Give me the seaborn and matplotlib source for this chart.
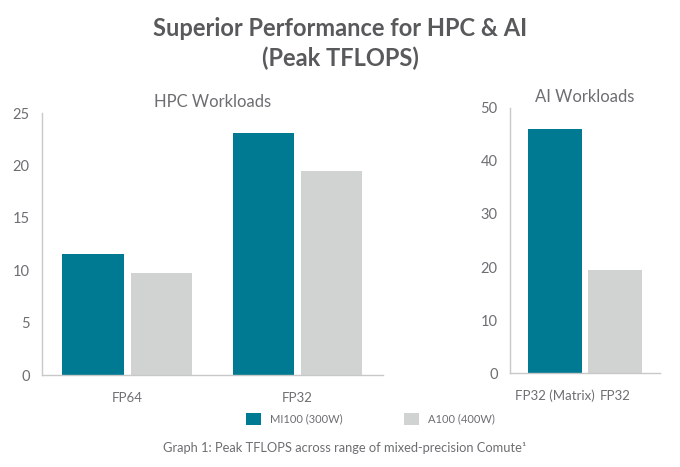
import pandas as pd
import matplotlib.pyplot as plt
import seaborn as sns
from matplotlib.patches import Patch

# datos (TFLOPS pico)
hpc_cats = ['FP64', 'FP32']
hpc_mi100 = [11.5, 23.1]
hpc_a100 = [9.7, 19.5]

ai_cats = ['FP32 (Matrix)', 'FP32']
ai_devices = ['MI100 (300W)', 'A100 (400W)']
ai_vals = [46.1, 19.5]

devices = ['MI100 (300W)', 'A100 (400W)']
colores = {'MI100 (300W)': '#007A92', 'A100 (400W)': '#D1D2D2'}
gris_texto = '#6D6E71'
gris_eje = '#C8C8C8'

sns.set_style('white')
plt.rcParams['font.family'] = ['Lato', 'DejaVu Sans']

df_hpc = pd.DataFrame({
    'cat': hpc_cats * 2,
    'device': [devices[0]] * len(hpc_cats) + [devices[1]] * len(hpc_cats),
    'tflops': hpc_mi100 + hpc_a100,
})
df_ai = pd.DataFrame({'cat': ai_cats, 'device': ai_devices, 'tflops': ai_vals})

fig = plt.figure(figsize=(6.8, 4.67), dpi=100)
ax1 = fig.add_axes([0.0618, 0.197, 0.501, 0.561])
ax2 = fig.add_axes([0.75, 0.201, 0.221, 0.568])

sns.barplot(data=df_hpc, x='cat', y='tflops', hue='device', palette=colores,
            order=hpc_cats, hue_order=devices, width=0.8, gap=0.1,
            saturation=1, linewidth=0, legend=False, ax=ax1)
sns.barplot(data=df_ai, x='cat', y='tflops', hue='device', palette=colores,
            order=ai_cats, hue_order=devices, dodge=False, width=0.9,
            saturation=1, linewidth=0, legend=False, ax=ax2)

ax1.set_ylim(0, 25)
ax1.set_yticks([0, 5, 10, 15, 20, 25])
ax1.set_xlim(-0.5, 1.5)
ax1.set_xticks([0.5, 1.5], minor=True)
ax2.set_ylim(0, 50)
ax2.set_yticks([0, 10, 20, 30, 40, 50])
ax2.set_xlim(-0.75, 1.75)
ax2.set_xticks([1.75], minor=True)

for ax, titulo in [(ax1, 'HPC Workloads'), (ax2, 'AI Workloads')]:
    ax.set_xlabel('')
    ax.set_ylabel('')
    ax.set_title(titulo, color=gris_texto, fontsize=12, pad=4)
    for lado in ['top', 'right']:
        ax.spines[lado].set_visible(False)
    for lado in ['left', 'bottom']:
        ax.spines[lado].set_color(gris_eje)
        ax.spines[lado].set_linewidth(1)
    ax.tick_params(axis='y', length=0, pad=9, labelsize=10.5, labelcolor=gris_texto)
    ax.tick_params(axis='x', which='major', length=0, pad=12, labelsize=9.5, labelcolor=gris_texto)
    ax.tick_params(axis='x', which='minor', direction='in', length=5, color=gris_eje)

fig.text(0.5, 0.907, 'Superior Performance for HPC & AI\n(Peak TFLOPS)',
         ha='center', va='center', fontsize=17, fontweight='bold',
         color='#58595B', linespacing=1.3)

handles = [Patch(facecolor=colores[d], edgecolor='none', label=d) for d in devices]
fig.legend(handles=handles, loc='center', bbox_to_anchor=(0.545, 0.103), ncol=2,
           frameon=False, fontsize=8, labelcolor=gris_texto,
           handlelength=1.35, handleheight=1.35, columnspacing=5.5, handletextpad=0.8)

fig.text(0.24, 0.04, 'Graph 1: Peak TFLOPS across range of mixed-precision Comute\u00b9',
         ha='left', va='center', fontsize=9.3, color=gris_texto)

plt.savefig('out.png', dpi=100)
plt.close()
